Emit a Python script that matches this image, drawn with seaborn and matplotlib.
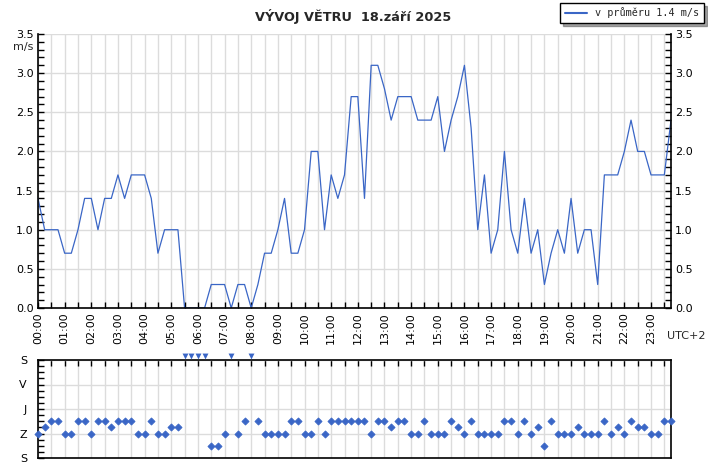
import numpy as np
import matplotlib.pyplot as plt
import matplotlib.ticker as ticker
import seaborn as sns

sns.set_theme(style="white")
plt.rcParams["font.family"] = ["DejaVu Sans"]
plt.rcParams["font.size"] = 8

BLUE = "#3a66c6"
GRID = "#dcdcdc"

# rychlost vetru po 15 minutach, 00:00 .. 23:45 (m/s)
speed = [
    1.4, 1.0, 1.0, 1.0, 0.7, 0.7, 1.0, 1.4,   # 00-01
    1.4, 1.0, 1.4, 1.4, 1.7, 1.4, 1.7, 1.7,   # 02-03
    1.7, 1.4, 0.7, 1.0, 1.0, 1.0, 0.0, 0.0,   # 04-05
    0.0, 0.0, 0.3, 0.3, 0.3, 0.0, 0.3, 0.3,   # 06-07
    0.0, 0.3, 0.7, 0.7, 1.0, 1.4, 0.7, 0.7,   # 08-09
    1.0, 2.0, 2.0, 1.0, 1.7, 1.4, 1.7, 2.7,   # 10-11
    2.7, 1.4, 3.1, 3.1, 2.8, 2.4, 2.7, 2.7,   # 12-13
    2.7, 2.4, 2.4, 2.4, 2.7, 2.0, 2.4, 2.7,   # 14-15
    3.1, 2.3, 1.0, 1.7, 0.7, 1.0, 2.0, 1.0,   # 16-17
    0.7, 1.4, 0.7, 1.0, 0.3, 0.7, 1.0, 0.7,   # 18-19
    1.4, 0.7, 1.0, 1.0, 0.3, 1.7, 1.7, 1.7,   # 20-21
    2.0, 2.4, 2.0, 2.0, 1.7, 1.7, 1.7, 2.4,   # 22-23
]

# smer vetru po 15 minutach ("-" = bezvetri)
direction = [
    "Z", "ZJZ", "JZ", "JZ", "Z", "Z", "JZ", "JZ",
    "Z", "JZ", "JZ", "ZJZ", "JZ", "JZ", "JZ", "Z",
    "Z", "JZ", "Z", "Z", "ZJZ", "ZJZ", "-", "-",
    "-", "-", "SZ", "SZ", "Z", "-", "Z", "JZ",
    "-", "JZ", "Z", "Z", "Z", "Z", "JZ", "JZ",
    "Z", "Z", "JZ", "Z", "JZ", "JZ", "JZ", "JZ",
    "JZ", "JZ", "Z", "JZ", "JZ", "ZJZ", "JZ", "JZ",
    "Z", "Z", "JZ", "Z", "Z", "Z", "JZ", "ZJZ",
    "Z", "JZ", "Z", "Z", "Z", "Z", "JZ", "JZ",
    "Z", "JZ", "Z", "ZJZ", "SZ", "JZ", "Z", "Z",
    "Z", "ZJZ", "Z", "Z", "Z", "JZ", "Z", "ZJZ",
    "Z", "JZ", "ZJZ", "ZJZ", "Z", "Z", "JZ", "JZ",
]
compass_deg = {"JZ": 225.0, "ZJZ": 247.5, "Z": 270.0, "SZ": 315.0}

hour_labels = [f"{h:02d}:00" for h in range(24)]
dir_ticks = [0, 90, 180, 270, 360]
dir_labels = ["S", "V", "J", "Z", "S"]

hours = np.arange(len(speed)) * 0.25
avg = np.mean(speed)

fig = plt.figure(figsize=(7.08, 4.68), dpi=100)
W, H = 708, 468
ax = fig.add_axes([38 / W, 1 - 308 / H, (671 - 38) / W, (308 - 34) / H])
ax2 = fig.add_axes([38 / W, 1 - 458 / H, (671 - 38) / W, (458 - 360) / H])

# --- rychlost ---
sns.lineplot(x=hours, y=speed, ax=ax, color=BLUE, linewidth=0.9,
             label=f"v průměru {avg:.1f} m/s")
handles, labels = ax.get_legend_handles_labels()
ax.get_legend().remove()

ax.set_xlim(0, 23.75)
ax.set_ylim(0, 3.5)
ax.set_xticks(range(24))
ax.set_xticklabels(hour_labels, rotation=90)
ax.xaxis.set_minor_locator(ticker.MultipleLocator(0.5))
ax.yaxis.set_major_locator(ticker.MultipleLocator(0.5))
ax.yaxis.set_minor_locator(ticker.MultipleLocator(0.1))
ax.yaxis.set_major_formatter(ticker.FormatStrFormatter("%.1f"))
ax.grid(True, which="both", axis="x", color=GRID, linewidth=1)
ax.grid(True, which="major", axis="y", color=GRID, linewidth=1)
ax.set_axisbelow(True)
ax.tick_params(axis="both", which="both", direction="in", length=4, width=1,
               colors="black", labelsize=8, left=True, right=True, bottom=True,
               labelright=True, pad=3)
ax.set_xlabel("")
ax.set_ylabel("")
for sp in ax.spines.values():
    sp.set_color("black")
    sp.set_linewidth(1.2)
ax.spines["top"].set_visible(False)

# --- smer ---
deg = [compass_deg[d] for d in direction if d != "-"]
h_dir = [h for h, d in zip(hours, direction) if d != "-"]
h_calm = [h for h, d in zip(hours, direction) if d == "-"]

sns.scatterplot(x=h_dir, y=deg, ax=ax2, marker="D", s=13, color=BLUE,
                linewidth=0.6, edgecolor=BLUE, zorder=3)
sns.scatterplot(x=h_calm, y=[-14] * len(h_calm), ax=ax2, marker="v", s=18,
                color=BLUE, linewidth=0, zorder=3)
for coll in ax2.collections:
    coll.set_clip_on(False)

ax2.set_xlim(0, 23.75)
ax2.set_ylim(360, 0)
ax2.set_yticks(dir_ticks)
ax2.set_yticklabels(dir_labels)
ax2.yaxis.set_minor_locator(ticker.MultipleLocator(22.5))
ax2.xaxis.set_major_locator(ticker.MultipleLocator(0.5))
ax2.grid(True, which="major", axis="both", color=GRID, linewidth=1)
ax2.set_axisbelow(True)
ax2.tick_params(axis="both", which="both", direction="in", length=4, width=1,
                colors="black", labelsize=8, left=True, top=True, bottom=False,
                labelbottom=False, pad=8)
for sp in ax2.spines.values():
    sp.set_color("black")
    sp.set_linewidth(1.2)

# --- texty ---
fig.text(353 / W, 1 - 16 / H, "VÝVOJ VĚTRU  18.září 2025", ha="center", va="center",
         fontsize=9.3, fontweight="bold")
fig.text(33 / W, 1 - 47 / H, "m/s", ha="right", va="center", fontsize=8)
fig.text(686 / W, 1 - 336 / H, "UTC+2", ha="center", va="center", fontsize=8)

leg = fig.legend(handles, labels, loc="upper right", bbox_to_anchor=(704 / W, 1 - 3 / H),
                 borderaxespad=0, frameon=True, fancybox=False, shadow=True,
                 framealpha=1, edgecolor="black", handlelength=2.2, borderpad=0.45,
                 prop={"family": "DejaVu Sans Mono", "size": 7.3})
leg.get_frame().set_linewidth(1)
leg.get_lines()[0].set_linewidth(1.5)

fig.savefig("out.png", dpi=100, facecolor="white")
